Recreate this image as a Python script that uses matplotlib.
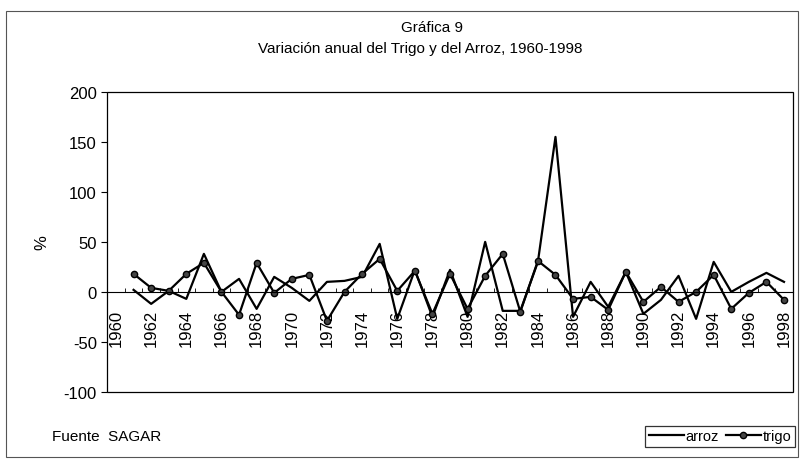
import numpy as np
import matplotlib.pyplot as plt
from matplotlib.patches import Rectangle

plt.rcParams['font.family'] = ['Liberation Sans', 'DejaVu Sans']
plt.rcParams['axes.unicode_minus'] = False

# data (% annual change)
years = list(range(1960, 1999))
arroz = [np.nan, 2, -12, 1, -7, 38, 0, 13, -17, 15,
         4, -9, 10, 11, 15, 48, -27, 22, -25, 22,
         -25, 50, -19, -19, 30, 155, -25, 10, -15, 20,
         -22, -8, 16, -27, 30, 0, 10, 19, 10]
trigo = [np.nan, 18, 4, 1, 18, 29, 0, -23, 29, -1,
         13, 17, -29, 0, 18, 33, 1, 21, -22, 18,
         -17, 16, 38, -20, 31, 17, -7, -5, -18, 20,
         -10, 5, -10, 0, 17, -17, -1, 10, -8]
tick_years = years[::2]

x = np.arange(len(years))

fig = plt.figure(figsize=(8, 4.6), dpi=100)
ax = fig.add_axes([0.134, 0.146, 0.857, 0.652])

ax.plot(x, arroz, color='black', lw=1.6, label='arroz')
ax.plot(x, trigo, color='black', lw=1.6, marker='o', markersize=4.5,
        markerfacecolor='#444444', markeredgecolor='black', label='trigo')

ax.set_xlim(-0.5, len(years) - 0.5)
ax.set_ylim(-100, 200)
ax.set_yticks(range(-100, 201, 50))

# x axis sits at zero, plot area boxed
ax.spines['bottom'].set_position(('data', 0))
ax.spines['top'].set_visible(False)
ax.spines['right'].set_visible(False)
ax.spines['left'].set_visible(False)
ax.add_patch(Rectangle((0, 0), 1, 1, transform=ax.transAxes, fill=False,
                       edgecolor='black', lw=0.9, clip_on=False))

ax.set_xticks(x[::2])
ax.set_xticklabels([str(y) for y in tick_years], rotation=90)
ax.set_xticks(x[:-1] + 0.5, minor=True)
ax.tick_params(axis='x', which='major', length=0, pad=12, labelsize=12)
ax.tick_params(axis='x', which='minor', length=3, direction='in')
ax.tick_params(axis='y', length=4, direction='out', labelsize=12)

ax.set_ylabel('%', fontsize=12, labelpad=10)

fig.text(0.54, 0.93, 'Gráfica 9', ha='center', fontsize=11)
fig.text(0.525, 0.885, 'Variación anual del Trigo y del Arroz, 1960-1998',
         ha='center', fontsize=11)
fig.text(0.065, 0.042, 'Fuente  SAGAR', fontsize=11)

leg = fig.legend(loc='lower right', bbox_to_anchor=(0.997, 0.02), ncol=2,
                 frameon=True, fancybox=False, fontsize=10.5, handlelength=2.4,
                 columnspacing=0.5, handletextpad=0.1, borderpad=0.25,
                 borderaxespad=0.2)
leg.get_frame().set_edgecolor('black')
leg.get_frame().set_linewidth(0.9)

# chart area border
fig.add_artist(Rectangle((0.008, 0.005), 0.99, 0.968, transform=fig.transFigure,
                         fill=False, edgecolor='#555555', lw=0.8))

fig.savefig('out.png', dpi=100)
